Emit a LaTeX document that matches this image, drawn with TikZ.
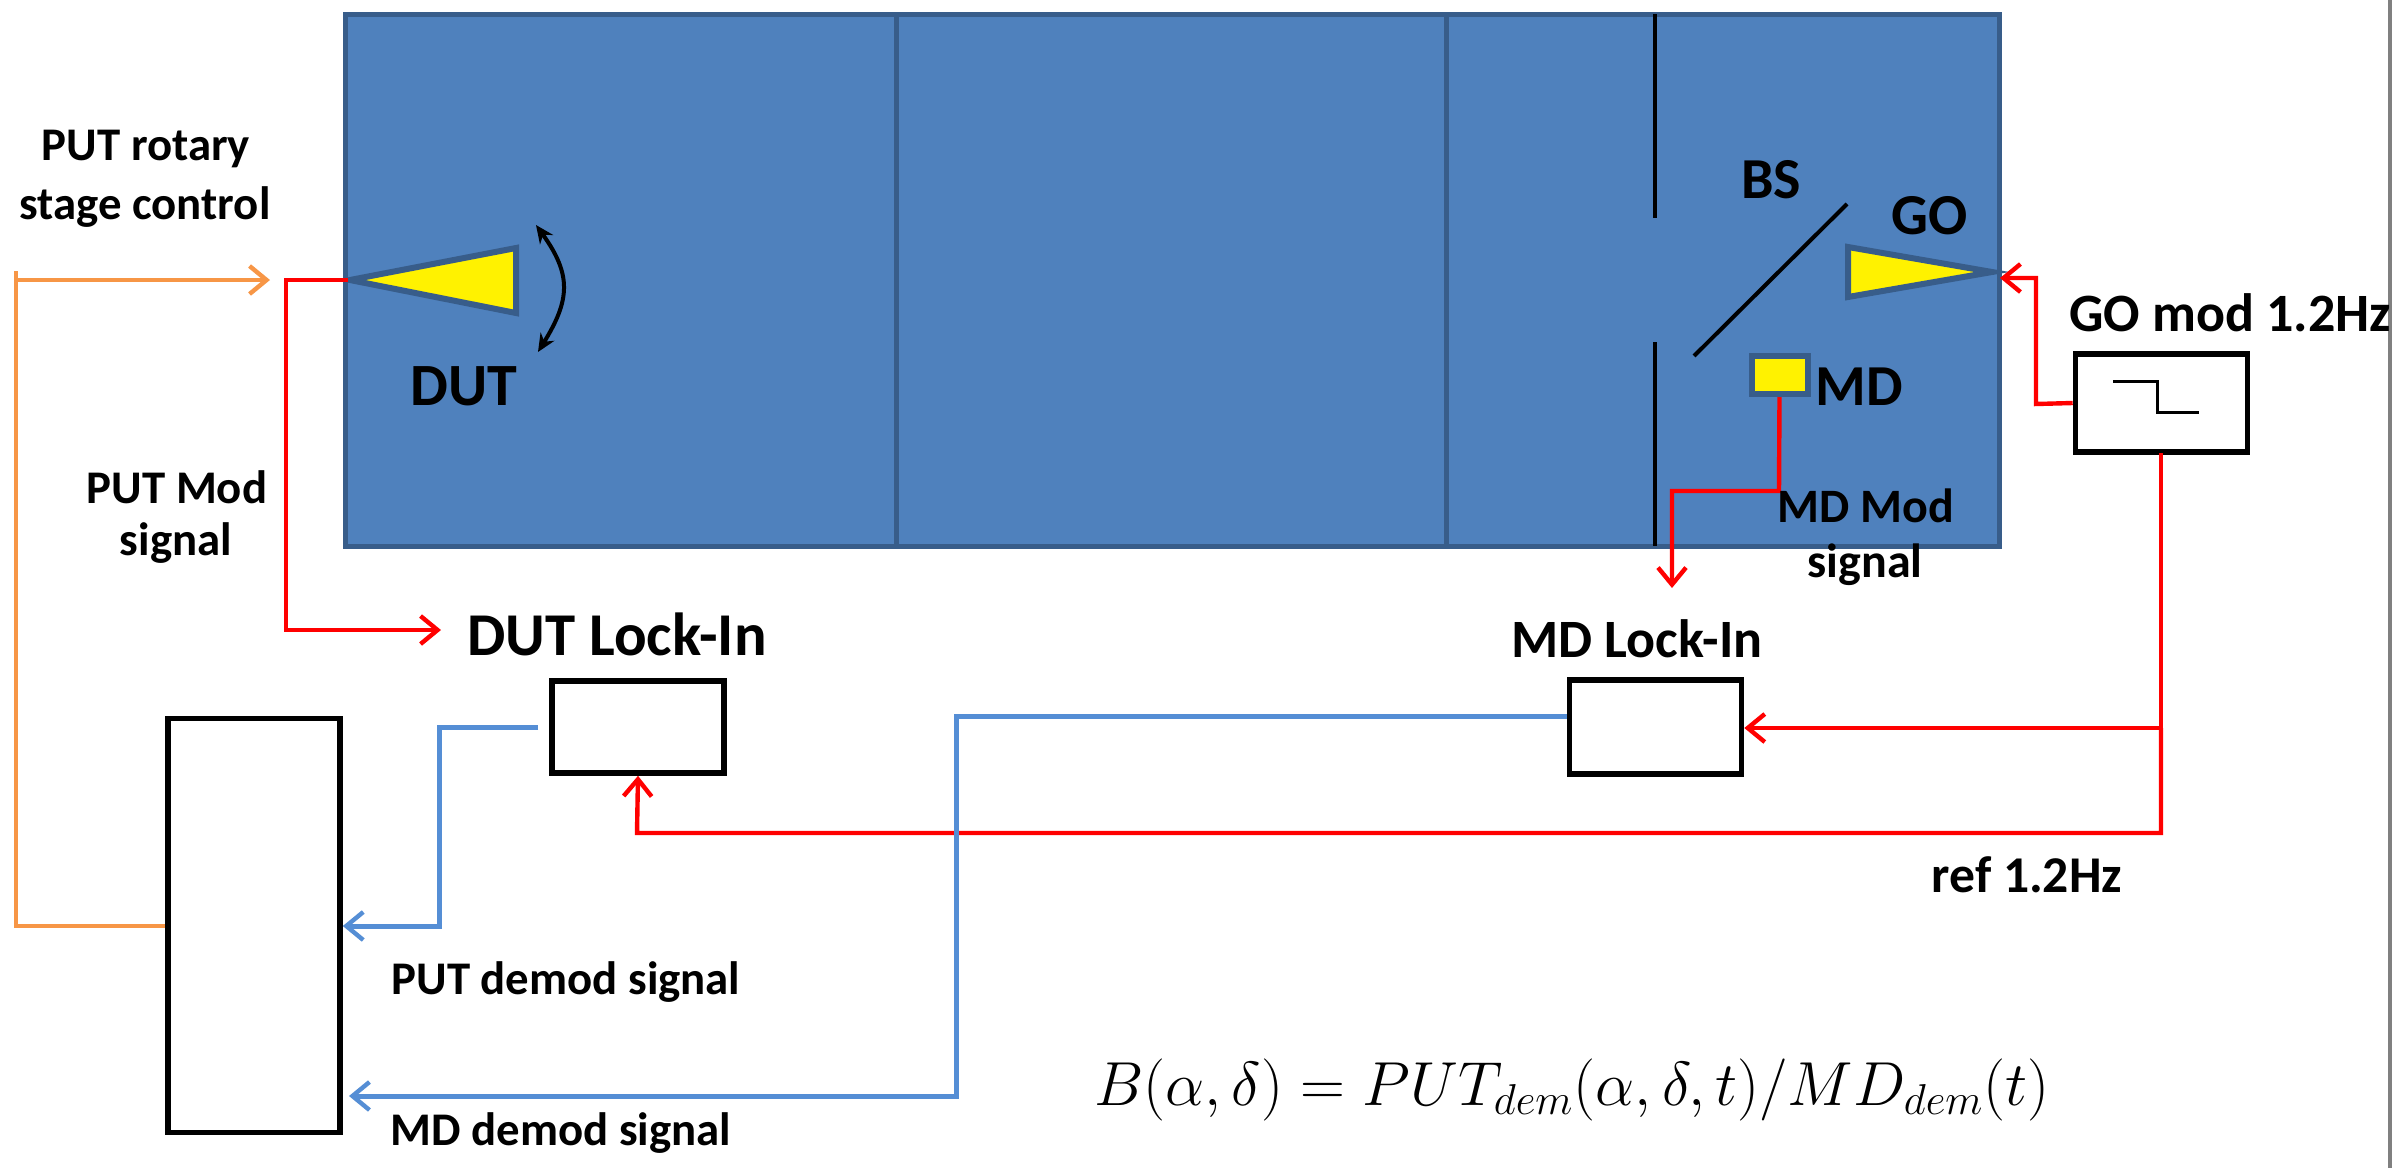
\documentclass[tikz,border=0pt]{standalone}
\usepackage{fontspec}
\setmainfont{Carlito}[BoldFont={Carlito Bold}]
\usetikzlibrary{arrows.meta}
\definecolor{panelblue}{HTML}{4F81BD}
\definecolor{paneledge}{HTML}{385D8A}
\definecolor{sigorange}{HTML}{F79646}
\definecolor{sigblue}{HTML}{558ED5}
\definecolor{frameline}{HTML}{808080}
\tikzset{
  x=0.5pt,y=-0.5pt,
  panel/.style={fill=panelblue,draw=paneledge,line width=2.5pt},
  divider/.style={draw=paneledge,line width=2.5pt},
  optic/.style={fill=yellow,draw=paneledge,line width=3pt,line join=miter},
  baffle/.style={draw=black,line width=2pt},
  instr/.style={draw=black,fill=white,line width=2.8pt,line join=miter},
  wire/.style={line width=2.2pt,line join=miter},
  redwire/.style={wire,draw=red},
  bluewire/.style={wire,draw=sigblue,line width=2.5pt},
  orangewire/.style={wire,draw=sigorange,line width=2.2pt},
  openarrow/.style={-{Straight Barb[length=8.5pt,width=14pt,line width=2.2pt]}},
  lab/.style={inner sep=0pt,font=\bfseries\fontsize{#1}{#1}\selectfont,align=center},
  lab/.default=23.4
}
\begin{document}
\begin{tikzpicture}
\useasboundingbox (0,0) rectangle (2405,1168);
\fill[white] (0,0) rectangle (2405,1168);
\draw[frameline,line width=1.8pt] (2390,0) -- (2390,1168);
% panel
\draw[panel] (345,14) rectangle (1999,546);
\draw[divider] (896,14) -- (896,546);
\draw[divider] (1446,14) -- (1446,546);
\draw[baffle] (1655,14) -- (1655,218);
\draw[baffle] (1655,342) -- (1655,546);
\draw[baffle] (1694,356) -- (1847,204);
% optics
\draw[optic] (350,280) -- (516,248) -- (516,313) -- cycle;
\draw[optic] (1848,247) -- (1848,297) -- (1992,272) -- cycle;
\node[optic,minimum width=28pt,minimum height=19pt,inner sep=0pt] (md) at (1779.5,375) {};
\draw[line width=2pt,{Stealth[length=9pt,width=8pt]}-{Stealth[length=9pt,width=8pt]}] (536,225) .. controls (572,275) and (570,300) .. (538,352);
% instruments
\node[instr,minimum width=86pt,minimum height=49pt,inner sep=0pt] (gomod) at (2161.5,403) {};
\node[instr,minimum width=86pt,minimum height=46pt,inner sep=0pt] (dutli) at (638,727) {};
\node[instr,minimum width=86pt,minimum height=47pt,inner sep=0pt] (mdli) at (1655.5,727) {};
\node[instr,minimum width=86pt,minimum height=207pt,inner sep=0pt] (pc) at (254,925.5) {};
% step symbol
\draw[line width=1.5pt] (2113,381) -- (2157,381) -- (2157,412) -- (2199,412);
% coordinates
\coordinate (orangeTop) at (16,271);
\coordinate (orangeTip) at (270,280);
\coordinate (dutMouth) at (348,280);
\coordinate (dutLabelTip) at (441,630);
\coordinate (goTip) at (2000,278);
\coordinate (mdDown) at (1672,588);
% orange
\draw[orangewire] (pc.west |- 0,926) -- (16,926) -- (orangeTop);
\draw[orangewire,openarrow] (16,280) -- (orangeTip);
% red
\draw[redwire,openarrow] (dutMouth) -- (286,280) -- (286,630) -- (dutLabelTip);
\draw[redwire,openarrow] (gomod.west) -- (2036,404) -- (2036,278) -- (goTip);
\draw[redwire,openarrow] (md.south) -- (1779,491) -- (1672,491) -- (mdDown);
\draw[redwire,openarrow] (2161,453) -- (2161,728) -- (mdli.east |- 0,728);
\draw[redwire,openarrow] (2161,728) -- (2161,833) -- (637,833) -- (dutli.south);
% blue
\draw[bluewire,openarrow] (538,727) -- (439,727) -- (439,926) -- (pc.east |- 0,926);
\draw[bluewire,openarrow] (mdli.west |- 0,716) -- (956,716) -- (956,1096) -- (349,1096);
% labels
\node[lab] (t1) at (146,149) {PUT rotary};
\node[lab] (t2) at (145,207) {stage control};
\node[lab] (t3) at (177,487) {PUT Mod};
\node[lab] (t4) at (176,543) {signal};
\node[lab=30] (t5) at (464,386) {DUT};
\node[lab=30.4] (t6) at (617,634) {DUT Lock-In};
\node[lab=27] (t7) at (1637,639) {MD Lock-In};
\node[lab=29] (t8) at (1771,180) {BS};
\node[lab=29] (t9) at (1930,216) {GO};
\node[lab=29] (t10) at (1859,387) {MD};
\node[lab=24] (t11) at (1866,506) {MD Mod};
\node[lab=24] (t12) at (1865,565) {signal};
\node[lab=27] (t13) at (2230,313) {GO mod 1.2Hz};
\node[lab=25.8] (t14) at (2027,875) {ref 1.2Hz};
\node[lab] (t15) at (566,982) {PUT demod signal};
\node[lab] (t16) at (561,1133) {MD demod signal};
\node[inner sep=0pt,font=\fontsize{25}{25}\selectfont] (t17) at (1572,1090) {\scalebox{1.25}{$B(\alpha,\delta)=PUT_{dem}(\alpha,\delta,t)/MD_{dem}(t)$}};
\end{tikzpicture}
\end{document}
